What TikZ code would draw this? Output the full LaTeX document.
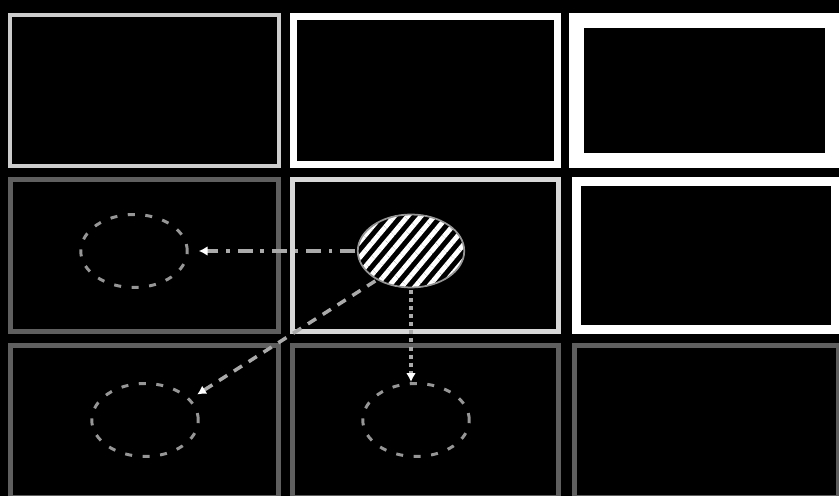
\documentclass[tikz,border=0pt]{standalone}
\usepackage{tikz}
\usetikzlibrary{arrows.meta,shapes.geometric,patterns.meta}

\definecolor{lightrim}{RGB}{205,205,205}
\definecolor{palerim}{RGB}{215,215,215}
\definecolor{darkrim}{RGB}{95,95,95}
\definecolor{dotgray}{RGB}{150,150,150}
\definecolor{linkgray}{RGB}{170,170,170}

\begin{document}
\begin{tikzpicture}[x=0.02cm,y=-0.02cm]
	\tikzset{cell/.style = {draw, rectangle, inner sep=0pt}}
	\tikzset{spot/.style = {ellipse, inner sep=0pt, minimum width=2.13cm, minimum height=1.46cm}}
	\tikzset{ghost/.style = {spot, draw=dotgray, line width=1.7pt, dash pattern=on 4pt off 6pt}}
	\tikzset{link/.style = {draw=linkgray, line width=2pt, -{Latex[length=5pt,width=5.5pt,color=white]}}}

	\useasboundingbox (0,0) rectangle (839,496);
	\clip (0,0) rectangle (839,496);
	\fill[black] (0,0) rectangle (839,496);

	% cells
	\node[cell, draw=lightrim, line width=2.27pt, minimum width=5.38cm, minimum height=3.02cm] (c11) at (144.5,90.5) {};
	\node[cell, draw=white, line width=3.97pt, minimum width=5.28cm, minimum height=2.96cm] (c12) at (425.5,90.5) {};
	\node[cell, draw=white, line width=8.5pt, minimum width=5.12cm, minimum height=2.8cm] (c13) at (704.5,90.5) {};
	\node[cell, draw=darkrim, line width=2.83pt, minimum width=5.36cm, minimum height=3.04cm] (c21) at (144.5,255.5) {};
	\node[cell, draw=palerim, line width=2.83pt, minimum width=5.32cm, minimum height=3.04cm] (c22) at (425.5,255.5) {};
	\node[cell, draw=white, line width=5.1pt, minimum width=5.18cm, minimum height=2.96cm] (c23) at (706,255.5) {};
	\node[cell, draw=darkrim, line width=2.83pt, minimum width=5.36cm, minimum height=3.04cm] (c31) at (144.5,421.5) {};
	\node[cell, draw=darkrim, line width=2.83pt, minimum width=5.32cm, minimum height=3.04cm] (c32) at (425.5,421.5) {};
	\node[cell, draw=darkrim, line width=2.83pt, minimum width=5.28cm, minimum height=3.04cm] (c33) at (706.5,421.5) {};

	% ellipses
	\node[spot, draw=dotgray, line width=1pt, pattern={Lines[angle=50,distance=5.8pt,line width=2.8pt]}, pattern color=white] (e22) at (411,251) {};
	\node[ghost] (e21) at (134,251) {};
	\node[ghost] (e31) at (145,420) {};
	\node[ghost] (e32) at (416,420) {};

	% arrows
	\draw[link, line width=2.2pt, dash pattern=on 8.5pt off 4.5pt on 2pt off 4.5pt, shorten >=0.2cm] (e22) to (e21);
	\draw[link, dash pattern=on 5.5pt off 4.5pt, shorten >=0.16cm] (e22.220) to (e31.25);
	\draw[link, dash pattern=on 2.3pt off 2.3pt] (e22.south) to (e22.south |- e32.north);
\end{tikzpicture}
\end{document}
